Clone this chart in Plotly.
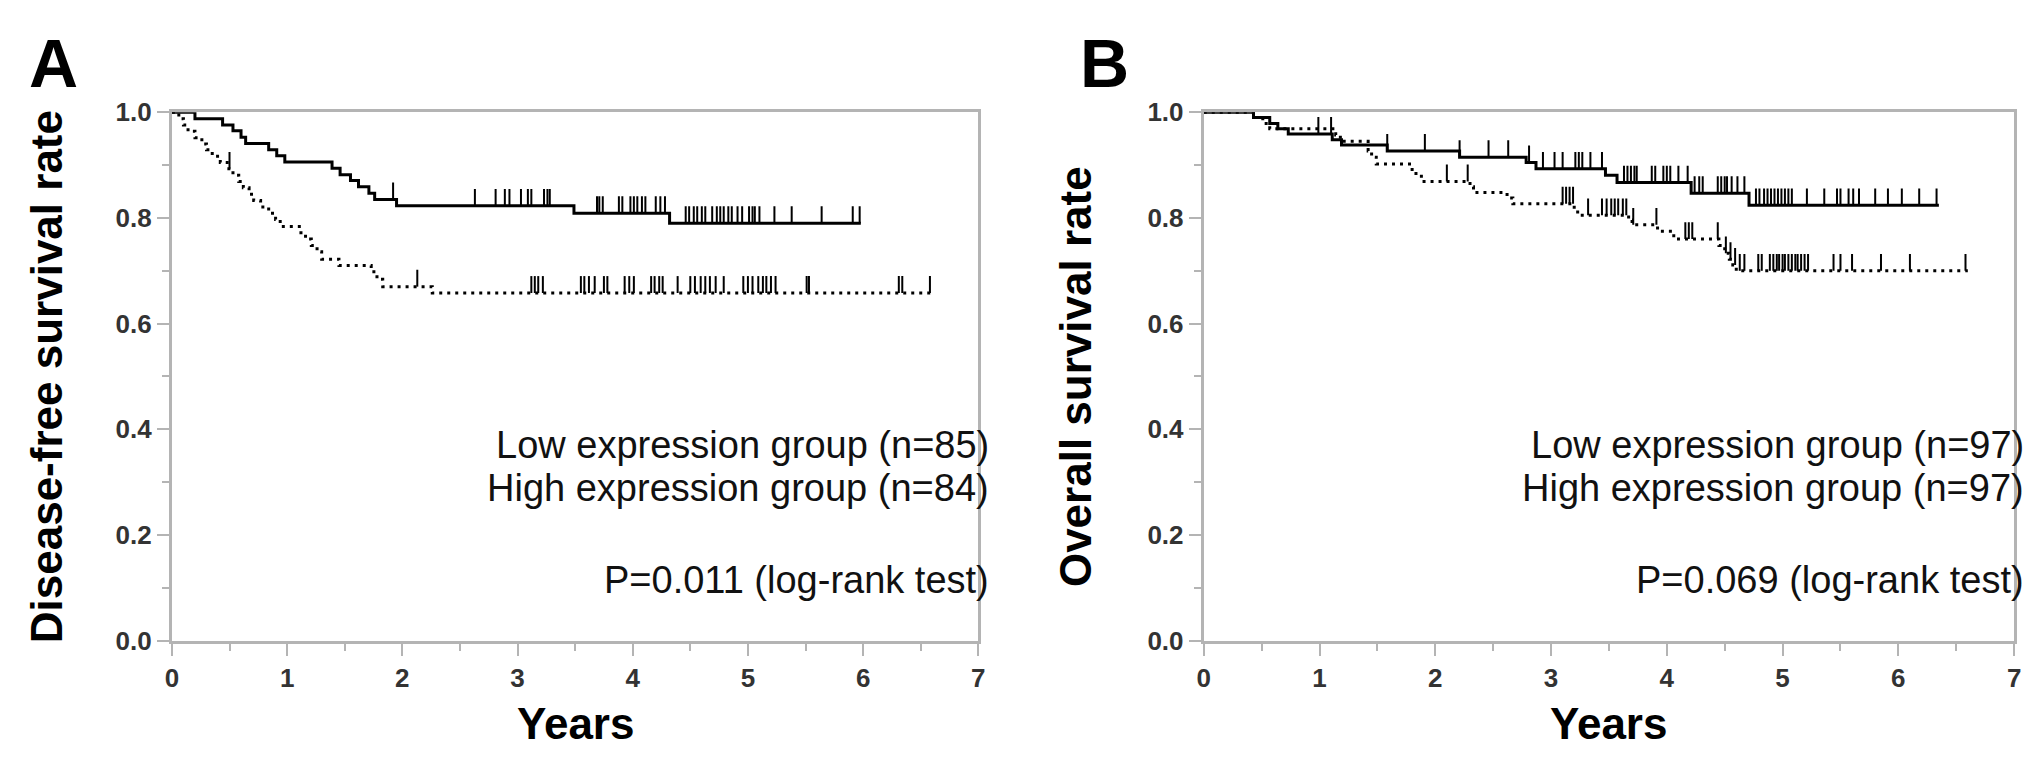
import numpy as np
import plotly.graph_objects as go

# ---------------- Panel A : disease-free survival ----------------
a_low_t = [0, 0.20, 0.44, 0.53, 0.60, 0.64, 0.84, 0.91, 0.98, 1.39, 1.46, 1.55, 1.62, 1.71, 1.76, 1.95, 3.49, 4.32, 5.98]
a_low_s = [1.0, 0.988, 0.976, 0.965, 0.953, 0.941, 0.929, 0.918, 0.906, 0.894, 0.882, 0.871, 0.859, 0.847, 0.835, 0.823, 0.809, 0.790, 0.790]
a_low_cens = [1.92, 2.63, 2.81, 2.89, 2.93, 3.03, 3.09, 3.12, 3.23, 3.26, 3.28, 3.69, 3.71, 3.74, 3.88, 3.91,
              3.98, 4.01, 4.04, 4.08, 4.11, 4.20, 4.24, 4.28, 4.46, 4.49, 4.53, 4.56, 4.60, 4.63, 4.69, 4.73,
              4.76, 4.79, 4.83, 4.86, 4.91, 4.95, 5.01, 5.04, 5.06, 5.10, 5.23, 5.38, 5.64, 5.91, 5.97]

a_high_t = [0, 0.06, 0.10, 0.14, 0.20, 0.26, 0.30, 0.35, 0.42, 0.48, 0.53, 0.58, 0.62, 0.67, 0.71, 0.77, 0.84,
            0.90, 0.94, 1.12, 1.16, 1.21, 1.26, 1.30, 1.45, 1.73, 1.78, 1.83, 2.26, 6.61]
a_high_s = [1.0, 0.988, 0.976, 0.964, 0.952, 0.940, 0.929, 0.917, 0.905, 0.893, 0.881, 0.869, 0.857, 0.845,
            0.833, 0.821, 0.809, 0.797, 0.784, 0.772, 0.760, 0.748, 0.736, 0.722, 0.710, 0.698, 0.684, 0.670,
            0.658, 0.658]
a_high_cens = [0.50, 2.13, 3.12, 3.15, 3.18, 3.22, 3.55, 3.58, 3.62, 3.67, 3.75, 3.78, 3.93, 3.97, 4.01, 4.16,
               4.19, 4.23, 4.26, 4.39, 4.50, 4.54, 4.59, 4.63, 4.67, 4.72, 4.79, 4.96, 5.00, 5.04, 5.09, 5.13,
               5.16, 5.20, 5.24, 5.51, 5.53, 6.31, 6.34, 6.58]

# ---------------- Panel B : overall survival ----------------
b_low_t = [0, 0.43, 0.57, 0.64, 0.73, 1.11, 1.19, 1.585, 2.21, 2.785, 2.87, 3.47, 3.57, 4.21, 4.71, 6.35]
b_low_s = [1.0, 0.990, 0.979, 0.969, 0.959, 0.948, 0.938, 0.927, 0.915, 0.905, 0.893, 0.881, 0.867, 0.847, 0.824, 0.824]
b_low_cens = [0.99, 1.10, 1.585, 1.91, 2.21, 2.46, 2.63, 2.81, 2.93, 3.03, 3.10, 3.21, 3.24, 3.27, 3.34, 3.44,
              3.63, 3.66, 3.69, 3.72, 3.74, 3.87, 3.90, 3.97, 4.00, 4.03, 4.10, 4.18, 4.24, 4.28, 4.31, 4.44,
              4.47, 4.50, 4.52, 4.56, 4.61, 4.67, 4.77, 4.80, 4.84, 4.87, 4.90, 4.93, 4.96, 4.99, 5.02, 5.05,
              5.08, 5.21, 5.36, 5.47, 5.50, 5.57, 5.61, 5.66, 5.80, 5.91, 6.03, 6.18, 6.33]

b_high_t = [0, 0.43, 0.51, 0.57, 1.14, 1.18, 1.42, 1.45, 1.49, 1.80, 1.88, 2.30, 2.33, 2.62, 2.67, 3.20, 3.23,
            3.67, 3.70, 3.92, 4.06, 4.45, 4.50, 4.54, 4.57, 4.60, 6.60]
b_high_s = [1.0, 0.990, 0.979, 0.969, 0.957, 0.945, 0.927, 0.915, 0.902, 0.884, 0.869, 0.859, 0.848, 0.838,
            0.827, 0.816, 0.805, 0.796, 0.787, 0.775, 0.760, 0.748, 0.733, 0.722, 0.711, 0.700, 0.700]
b_high_cens = [2.10, 2.28, 3.10, 3.13, 3.16, 3.19, 3.32, 3.44, 3.48, 3.52, 3.55, 3.58, 3.62, 3.65, 3.71, 3.91,
               4.16, 4.19, 4.22, 4.44, 4.51, 4.55, 4.59, 4.63, 4.67, 4.79, 4.82, 4.89, 4.92, 4.95, 4.97, 5.00,
               5.02, 5.05, 5.08, 5.11, 5.13, 5.16, 5.19, 5.22, 5.44, 5.50, 5.60, 5.85, 6.10, 6.58]

x_ticks = [0, 1, 2, 3, 4, 5, 6, 7]
y_ticks = [0.0, 0.2, 0.4, 0.6, 0.8, 1.0]

a_texts = ["Low expression group (n=85)", "High expression group (n=84)", "P=0.011 (log-rank test)"]
b_texts = ["Low expression group (n=97)", "High expression group (n=97)", "P=0.069 (log-rank test)"]

FONT = "Liberation Sans, Arial, sans-serif"
AXC = "#b4b4b4"
TICK_H = 0.032


def cens_xy(t, s, c):
    t = np.asarray(t)
    s = np.asarray(s)
    xs, ys = [], []
    for ci in c:
        i = max(np.searchsorted(t, ci, side="right") - 1, 0)
        v = float(s[i])
        xs += [ci, ci, None]
        ys += [v, v + TICK_H, None]
    return xs, ys


fig = go.Figure()


def add_panel(xa, ya, lt, ls, lc, ht, hs, hc):
    fig.add_trace(go.Scatter(x=lt, y=ls, mode="lines", line=dict(color="black", width=3, shape="hv"),
                             xaxis=xa, yaxis=ya, cliponaxis=False, showlegend=False, hoverinfo="skip"))
    fig.add_trace(go.Scatter(x=ht, y=hs, mode="lines",
                             line=dict(color="black", width=3, shape="hv", dash="3px,5px"),
                             xaxis=xa, yaxis=ya, cliponaxis=False, showlegend=False, hoverinfo="skip"))
    for (t, s, c) in [(lt, ls, lc), (ht, hs, hc)]:
        cx, cy = cens_xy(t, s, c)
        fig.add_trace(go.Scatter(x=cx, y=cy, mode="lines", line=dict(color="black", width=2),
                                 xaxis=xa, yaxis=ya, cliponaxis=False, showlegend=False, hoverinfo="skip"))


add_panel("x", "y", a_low_t, a_low_s, a_low_cens, a_high_t, a_high_s, a_high_cens)
add_panel("x2", "y2", b_low_t, b_low_s, b_low_cens, b_high_t, b_high_s, b_high_cens)

W, H = 2031, 759
y_dom = [(H - 643) / H, (H - 93) / H]
xa_dom = [158 / W, 970 / W]
xb_dom = [1197 / W, 2013 / W]

tickfont = dict(family=FONT, size=26, color="#333333", weight="bold")

xcommon = dict(range=[0, 7], tickvals=x_ticks, ticktext=[str(v) for v in x_ticks],
               ticks="outside", ticklen=12, tickwidth=2, tickcolor=AXC,
               showline=True, linecolor=AXC, linewidth=3, mirror=True,
               showgrid=False, zeroline=False, tickfont=tickfont,
               minor=dict(dtick=0.5, tick0=0, ticks="outside", ticklen=7, tickwidth=2, tickcolor=AXC, showgrid=False))
ycommon = dict(range=[0, 1], tickvals=y_ticks, ticktext=[f"{v:.1f}" for v in y_ticks],
               ticks="outside", ticklen=12, tickwidth=2, tickcolor=AXC,
               showline=True, linecolor=AXC, linewidth=3, mirror=True,
               showgrid=False, zeroline=False, tickfont=tickfont, domain=y_dom,
               minor=dict(dtick=0.1, tick0=0, ticks="outside", ticklen=7, tickwidth=2, tickcolor=AXC, showgrid=False))

fig.update_layout(
    width=W, height=H, paper_bgcolor="white", plot_bgcolor="white",
    margin=dict(l=0, r=0, t=0, b=0),
    xaxis=dict(xcommon, domain=xa_dom, anchor="y"),
    yaxis=dict(ycommon, anchor="x"),
    xaxis2=dict(xcommon, domain=xb_dom, anchor="y2"),
    yaxis2=dict(ycommon, anchor="x2"),
    font=dict(family=FONT, color="black"),
)

ann = []
# panel letters
ann.append(dict(text="<b>A</b>", x=12 / W, y=(H - 42) / H, xref="paper", yref="paper",
                xanchor="left", yanchor="middle", showarrow=False, font=dict(size=68, family=FONT, color="black")))
ann.append(dict(text="<b>B</b>", x=1070 / W, y=(H - 42) / H, xref="paper", yref="paper",
                xanchor="left", yanchor="middle", showarrow=False, font=dict(size=68, family=FONT, color="black")))
# y titles
ann.append(dict(text="<b>Disease-free survival rate</b>", x=32 / W, y=(H - 368) / H, xref="paper", yref="paper",
                textangle=-90, xanchor="center", yanchor="middle", showarrow=False,
                font=dict(size=44, family=FONT, color="black")))
ann.append(dict(text="<b>Overall survival rate</b>", x=1068 / W, y=(H - 368) / H, xref="paper", yref="paper",
                textangle=-90, xanchor="center", yanchor="middle", showarrow=False,
                font=dict(size=44, family=FONT, color="black")))
# x titles
for cx in [(158 + 970) / 2, (1197 + 2013) / 2]:
    ann.append(dict(text="<b>Years</b>", x=cx / W, y=(H - 729) / H, xref="paper", yref="paper",
                    xanchor="center", yanchor="middle", showarrow=False,
                    font=dict(size=44, family=FONT, color="black")))
# group / p-value texts
ys_txt = [439, 484, 580]
for texts, xr in [(a_texts, 983), (b_texts, 2025)]:
    for t, yy in zip(texts, ys_txt):
        ann.append(dict(text=t, x=xr / W, y=(H - yy) / H, xref="paper", yref="paper",
                        xanchor="right", yanchor="middle", showarrow=False,
                        font=dict(size=38, family=FONT, color="#111111")))

fig.update_layout(annotations=ann)
fig.write_html("out.html")
